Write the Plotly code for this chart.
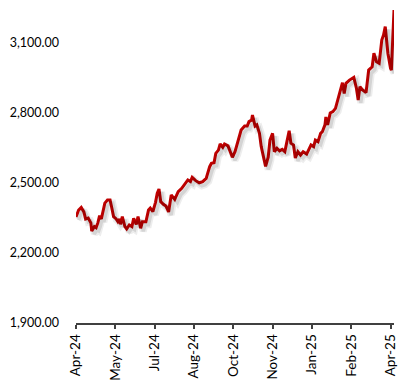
import plotly.graph_objects as go
from datetime import date, timedelta

# Data
dates = [
    "2024-04-12", "2024-04-15", "2024-04-18", "2024-04-21", "2024-04-23", "2024-04-26", "2024-04-29", "2024-04-30",
    "2024-05-03", "2024-05-05", "2024-05-07", "2024-05-09", "2024-05-11", "2024-05-15", "2024-05-18", "2024-05-21",
    "2024-05-23", "2024-05-25", "2024-05-28", "2024-05-30", "2024-06-01", "2024-06-02", "2024-06-04", "2024-06-07",
    "2024-06-09", "2024-06-12", "2024-06-15", "2024-06-17", "2024-06-20", "2024-06-22", "2024-06-25", "2024-06-27",
    "2024-07-01", "2024-07-04", "2024-07-06", "2024-07-09", "2024-07-12", "2024-07-14", "2024-07-16", "2024-07-18",
    "2024-07-21", "2024-07-24", "2024-07-27", "2024-07-30", "2024-08-03", "2024-08-07", "2024-08-11", "2024-08-15",
    "2024-08-18", "2024-08-21", "2024-08-23", "2024-08-27", "2024-08-31", "2024-09-04", "2024-09-08", "2024-09-12",
    "2024-09-14", "2024-09-17", "2024-09-19", "2024-09-22", "2024-09-24", "2024-09-27", "2024-09-29", "2024-10-03",
    "2024-10-05", "2024-10-08", "2024-10-11", "2024-10-13", "2024-10-16", "2024-10-18", "2024-10-22", "2024-10-25",
    "2024-10-27", "2024-10-30", "2024-10-31", "2024-11-03", "2024-11-05", "2024-11-08", "2024-11-10", "2024-11-13",
    "2024-11-15", "2024-11-18", "2024-11-20", "2024-11-23", "2024-11-25", "2024-11-28", "2024-12-01", "2024-12-04",
    "2024-12-07", "2024-12-09", "2024-12-12", "2024-12-14", "2024-12-17", "2024-12-19", "2024-12-22", "2024-12-25",
    "2024-12-28", "2025-01-01", "2025-01-04", "2025-01-06", "2025-01-09", "2025-01-11", "2025-01-14", "2025-01-17",
    "2025-01-19", "2025-01-22", "2025-01-23", "2025-01-25", "2025-01-28", "2025-01-31", "2025-02-03", "2025-02-06",
    "2025-02-08", "2025-02-11", "2025-02-13", "2025-02-15", "2025-02-19", "2025-02-24", "2025-02-27", "2025-03-01",
    "2025-03-03", "2025-03-06", "2025-03-10", "2025-03-13", "2025-03-17", "2025-03-19", "2025-03-22", "2025-03-25",
    "2025-03-28", "2025-03-30", "2025-04-01", "2025-04-04", "2025-04-07", "2025-04-08", "2025-04-11",
]
prices = [
    2354, 2384, 2395, 2376, 2346, 2350, 2329, 2294,
    2313, 2308, 2329, 2360, 2346, 2414, 2427, 2427,
    2393, 2356, 2346, 2334, 2346, 2323, 2356, 2313,
    2303, 2320, 2313, 2349, 2323, 2356, 2306, 2334,
    2334, 2384, 2392, 2377, 2417, 2456, 2474, 2420,
    2409, 2401, 2376, 2449, 2430, 2463, 2477, 2499,
    2513, 2506, 2524, 2510, 2501, 2506, 2520, 2570,
    2584, 2587, 2627, 2641, 2667, 2653, 2667, 2659,
    2638, 2610, 2634, 2659, 2698, 2727, 2744, 2744,
    2763, 2770, 2791, 2744, 2749, 2713, 2656, 2599,
    2571, 2611, 2684, 2713, 2634, 2649, 2638, 2644,
    2634, 2670, 2724, 2671, 2663, 2607, 2634, 2620,
    2634, 2624, 2649, 2663, 2656, 2684, 2677, 2713,
    2720, 2749, 2783, 2749, 2800, 2806, 2820, 2863,
    2891, 2930, 2884, 2927, 2941, 2953, 2906, 2856,
    2913, 2899, 2887, 2984, 2998, 3056, 3020, 3013,
    3113, 3134, 3170, 3056, 2992, 2984, 3241,
]
y_ticks = [1900, 2200, 2500, 2800, 3100]
y_tick_labels = ["1,900.00", "2,200.00", "2,500.00", "2,800.00", "3,100.00"]

x_start, x_end = dates[0], dates[-1]
y_min, y_max = 1900, 3250
tick_step_days = 45

FONT = "Lato"
AXIS_COLOR = "#404040"

fig = go.Figure()

# soft drop shadow: same data drawn on overlay axes whose ranges are nudged
d0 = date.fromisoformat(x_start)
d1 = date.fromisoformat(x_end)
sx = timedelta(hours=int(3.4 * 24))
sy = 13
fig.add_trace(go.Scatter(x=dates, y=prices, mode="lines", xaxis="x2", yaxis="y2",
                         line=dict(color="rgba(0,0,0,0.07)", width=7), hoverinfo="skip",
                         showlegend=False))
fig.add_trace(go.Scatter(x=dates, y=prices, mode="lines", xaxis="x2", yaxis="y2",
                         line=dict(color="rgba(0,0,0,0.10)", width=3.5), hoverinfo="skip",
                         showlegend=False))

fig.add_trace(go.Scatter(x=dates, y=prices, mode="lines",
                         line=dict(color="#C00000", width=3), showlegend=False))

fig.update_layout(
    width=398, height=374,
    margin=dict(l=68, r=12, t=0, b=59),
    paper_bgcolor="white", plot_bgcolor="white",
    font=dict(family=FONT, size=14, color="#000000"),
    xaxis=dict(
        type="date", range=[x_start, x_end], automargin=False,
        tick0=x_start, dtick=tick_step_days * 86400000, tickformat="%b-%y",
        tickangle=-90, ticks="outside", ticklen=4, tickwidth=1.5, tickcolor=AXIS_COLOR,
        showline=True, linecolor=AXIS_COLOR, linewidth=1.75,
        showgrid=False, zeroline=False,
        tickfont=dict(family=FONT, size=13.5, color="#000000"),
    ),
    # same ticks drawn inward so they cross the axis line
    xaxis3=dict(
        type="date", overlaying="x", range=[x_start, x_end], automargin=False,
        tick0=x_start, dtick=tick_step_days * 86400000,
        ticks="inside", ticklen=2, tickwidth=1.5, tickcolor=AXIS_COLOR,
        showticklabels=False, showline=False, showgrid=False, zeroline=False,
    ),
    yaxis=dict(
        range=[y_min, y_max], tickvals=y_ticks, ticktext=y_tick_labels, automargin=False,
        showline=False, showgrid=False, zeroline=False, ticks="",
        ticklabelstandoff=16,
        tickfont=dict(family=FONT, size=12.5, color="#000000"),
    ),
    xaxis2=dict(type="date", overlaying="x", range=[d0 - sx, d1 - sx], visible=False),
    yaxis2=dict(overlaying="y", range=[y_min + sy, y_max + sy], visible=False),
)

fig.write_html("out.html")
